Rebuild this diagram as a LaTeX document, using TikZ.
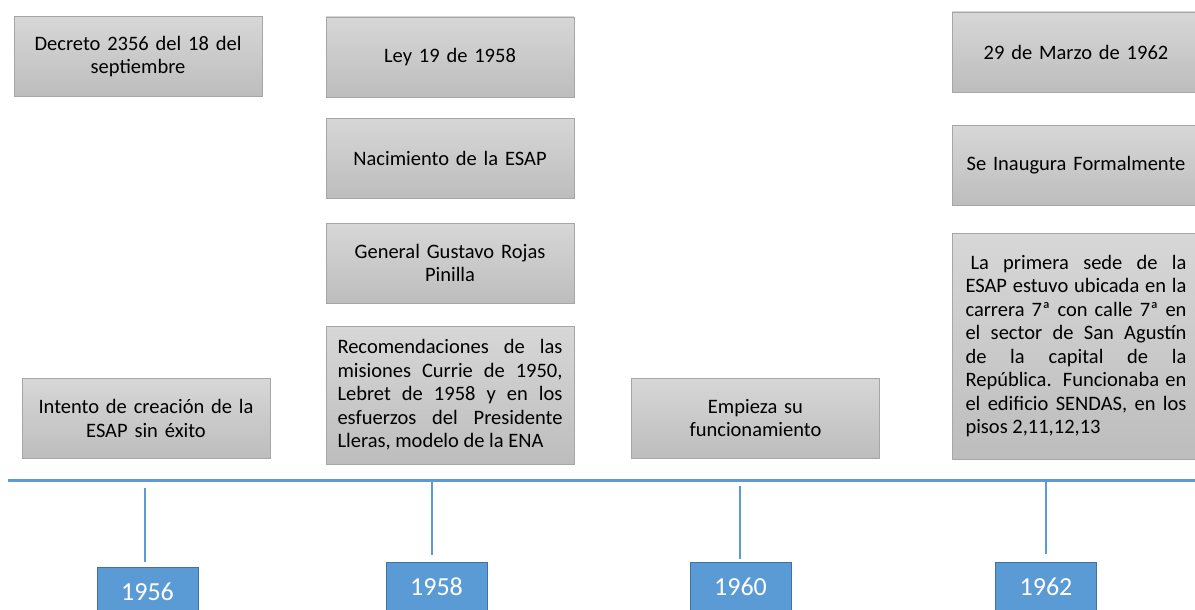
\documentclass[tikz,border=0pt]{standalone}
\usepackage{fontspec}
\setmainfont{Carlito}

\definecolor{boxtop}{RGB}{215,215,215}
\definecolor{boxbot}{RGB}{189,189,189}
\definecolor{boxline}{RGB}{166,166,166}
\definecolor{lineblue}{RGB}{91,155,213}
\definecolor{yearline}{RGB}{65,113,156}

\begin{document}
\begin{tikzpicture}[
            x=1pt, y=-1pt,
            event/.style={draw=boxline, top color=boxtop, bottom color=boxbot,
                minimum width=248pt, minimum height=80pt, text width=226pt,
                inner sep=0pt, align=center, font=\fontsize{20.5}{23.5}\selectfont},
            year/.style={draw=yearline, fill=lineblue, text=white,
                minimum width=101pt, minimum height=50pt, inner sep=0pt,
                font=\fontsize{26}{30}\selectfont},
            axis/.style={draw=lineblue, line width=3pt},
            tick/.style={draw=lineblue, line width=2pt},
            ]
            \clip (0,0) rectangle (1195,610);
            \fill[white] (0,0) rectangle (1195,610);
            % 1956
            \node[event] (decreto) at (138,56.5) {Decreto 2356 del 18 del\\septiembre};
            \node[event] (intento) at (146,418.5) {Intento de creación de la\\ESAP sin éxito};
            % 1958
            \node[event] (ley) at (450,57) {Ley 19 de 1958};
            \node[event] (nacimiento) at (450,158) {Nacimiento de la ESAP};
            \node[event] (general) at (450,263) {General Gustavo Rojas\\Pinilla};
            \node[event, minimum height=138pt, text width=225pt, align=justify] (misiones) at (450,395)
                {Recomendaciones de las\linebreak misiones Currie de 1950,\linebreak Lebret de 1958 y en los\linebreak esfuerzos del Presidente\linebreak Lleras, modelo de la ENA};
            % 1960
            \node[event] (empieza) at (755.5,418) {Empieza su\\funcionamiento};
            % 1962, boxes run past the right edge
            \node[event] (marzo) at (1076,52) {29 de Marzo de 1962};
            \node[event] (inaugura) at (1076,165.5) {Se Inaugura Formalmente};
            \node[event, minimum height=226pt, text width=221pt, align=justify] (sede) at (1076,346)
                {\hspace*{5pt}La primera sede de la\linebreak ESAP estuvo ubicada en la\linebreak carrera 7ª con calle 7ª en\linebreak el sector de San Agustín\linebreak de la capital de la\linebreak República. Funcionaba en\linebreak el edificio SENDAS, en los\linebreak pisos 2,11,12,13};

            % years
            \node[year] (y56) at (147.5,592) {1956};
            \node[year] (y58) at (436.5,587) {1958};
            \node[year] (y60) at (740.5,587) {1960};
            \node[year] (y62) at (1046,587) {1962};

            \coordinate (t56) at (145,488);
            \coordinate (t58) at (432,480);
            \coordinate (t60) at (740,486);
            \coordinate (t62) at (1046,480);
            \draw[tick] (t56) -- ([yshift=5pt]t56 |- y56.north);
            \draw[tick] (t58) -- ([yshift=7pt]t58 |- y58.north);
            \draw[tick] (t60) -- ([yshift=3pt]t60 |- y60.north);
            \draw[tick] (t62) -- ([yshift=8pt]t62 |- y62.north);

            % timeline
            \coordinate (start) at (8,480);
            \coordinate (end) at (1195,480);
            \draw[axis] (start) -- (end);
        \end{tikzpicture}
\end{document}
